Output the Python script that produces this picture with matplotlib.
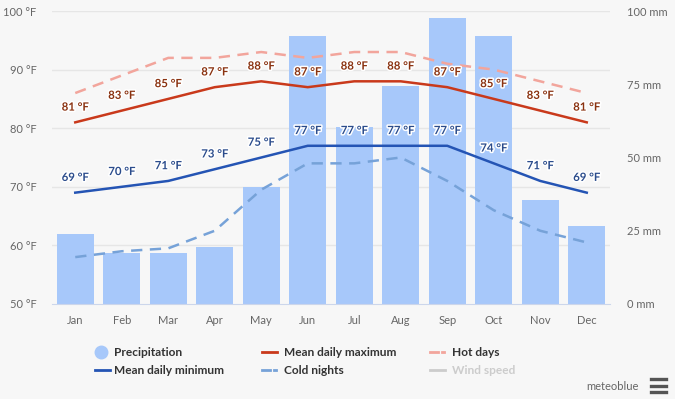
import numpy as np
import matplotlib
matplotlib.use("Agg")
import matplotlib.pyplot as plt
import matplotlib.patheffects as pe
from matplotlib.lines import Line2D

plt.rcParams['font.family'] = ['Lato', 'DejaVu Sans']

# data
months = ['Jan', 'Feb', 'Mar', 'Apr', 'May', 'Jun', 'Jul', 'Aug', 'Sep', 'Oct', 'Nov', 'Dec']
precip_mm = [24, 17.5, 17.5, 19.5, 40, 91.5, 60.5, 74.5, 97.5, 91.5, 35.5, 26.5]
t_max = [81, 83, 85, 87, 88, 87, 88, 88, 87, 85, 83, 81]
t_min = [69, 70, 71, 73, 75, 77, 77, 77, 77, 74, 71, 69]
hot_days = [86, 89, 92, 92, 93, 92, 93, 93, 91, 90, 88, 86]
cold_nights = [58, 59, 59.5, 62.5, 69.5, 74, 74, 75, 71, 66, 62.5, 60.5]
f_ticks = [50, 60, 70, 80, 90, 100]
mm_ticks = [0, 25, 50, 75, 100]

bg = '#f7f7f7'
c_bar = '#a7c8fa'
c_max = '#c9391b'
c_max_lbl = '#8a3210'
c_min = '#2454b4'
c_min_lbl = '#2b4c8c'
c_hot = '#f2a59c'
c_cold = '#76a2d8'

fig = plt.figure(figsize=(6.75, 3.99), dpi=100, facecolor=bg)
ax = fig.add_axes([52/675, 1-304/399, 558/675, 293/399])
ax.set_facecolor(bg)
ax2 = ax.twinx()
ax2.set_zorder(0)
ax.set_zorder(1)
ax.patch.set_visible(False)
ax2.patch.set_facecolor(bg)

x = np.arange(len(months))

# grid behind the bars (°F ticks expressed on the mm axis)
for f in f_ticks[1:]:
    ax2.axhline((f - 50) * 2, color='#e6e6e6', lw=1, zorder=0)

# precipitation on the mm axis
ax2.bar(x, precip_mm, width=0.79, color=c_bar, zorder=1)
ax2.set_ylim(0, 100)
ax2.set_yticks(mm_ticks)
ax2.set_yticklabels([f'{v} mm' for v in mm_ticks])

# temperature lines
ax.plot(x, hot_days, color=c_hot, lw=1.8, ls=(0, (4.5, 3)), zorder=2)
ax.plot(x, cold_nights, color=c_cold, lw=1.8, ls=(0, (4.5, 3)), zorder=2)
ax.plot(x, t_max, color=c_max, lw=1.8, zorder=3, solid_joinstyle='round')
ax.plot(x, t_min, color=c_min, lw=1.8, zorder=3, solid_joinstyle='round')

halo = [pe.withStroke(linewidth=2.2, foreground='white')]
for i in range(len(months)):
    ax.annotate(f'{t_max[i]} °F', (x[i], t_max[i]), xytext=(0, 7), textcoords='offset points',
                ha='center', va='bottom', fontsize=8.2, fontweight='bold', color=c_max_lbl,
                path_effects=halo, zorder=5)
    ax.annotate(f'{t_min[i]} °F', (x[i], t_min[i]), xytext=(0, 7), textcoords='offset points',
                ha='center', va='bottom', fontsize=8.2, fontweight='bold', color=c_min_lbl,
                path_effects=halo, zorder=5)

ax.set_xlim(-0.5, len(months) - 0.5)
ax.set_ylim(50, 100)
ax.set_yticks(f_ticks)
ax.set_yticklabels([f'{v} °F' for v in f_ticks])
ax.set_xticks(x)
ax.set_xticklabels(months)

for a in (ax, ax2):
    for s in a.spines.values():
        s.set_visible(False)
    a.tick_params(length=0, labelsize=8, labelcolor='#666666')
ax.spines['bottom'].set_visible(True)
ax.spines['bottom'].set_color('#ccd6eb')
ax.tick_params(axis='y', pad=11)
ax.tick_params(axis='x', pad=8)
ax2.tick_params(axis='y', pad=12)

# legend drawn by hand
def leg_line(x0, y0, color, dashed=False):
    if dashed:
        fig.add_artist(Line2D([x0/675, (x0+8)/675], [1-y0/399]*2, color=color, lw=2))
        fig.add_artist(Line2D([(x0+12)/675, (x0+14)/675], [1-y0/399]*2, color=color, lw=2))
    else:
        fig.add_artist(Line2D([x0/675, (x0+15)/675], [1-y0/399]*2, color=color, lw=2))

def leg_text(x0, y0, s, color='#333333'):
    fig.text(x0/675, 1-y0/399, s, ha='left', va='center', fontsize=8.6, fontweight='bold', color=color)

fig.add_artist(Line2D([101/675], [1-352/399], marker='o', ms=9, color=c_bar, lw=0))
leg_text(114, 352, 'Precipitation')
leg_line(262, 352, c_max)
leg_text(284, 352, 'Mean daily maximum')
leg_line(430, 352, c_hot, dashed=True)
leg_text(452, 352, 'Hot days')
leg_line(95, 370, c_min)
leg_text(114, 370, 'Mean daily minimum')
leg_line(262, 370, c_cold, dashed=True)
leg_text(284, 370, 'Cold nights')
leg_line(430, 370, '#cccccc')
leg_text(452, 370, 'Wind speed', color='#cccccc')

fig.text(639/675, 1-386/399, 'meteoblue', ha='right', va='center', fontsize=8, color='#666666')
for yy in (379, 385.5, 392):
    fig.add_artist(Line2D([651/675, 666/675], [1-yy/399]*2, color='#555555', lw=2.4))

fig.savefig('out.png', dpi=100, facecolor=bg)
